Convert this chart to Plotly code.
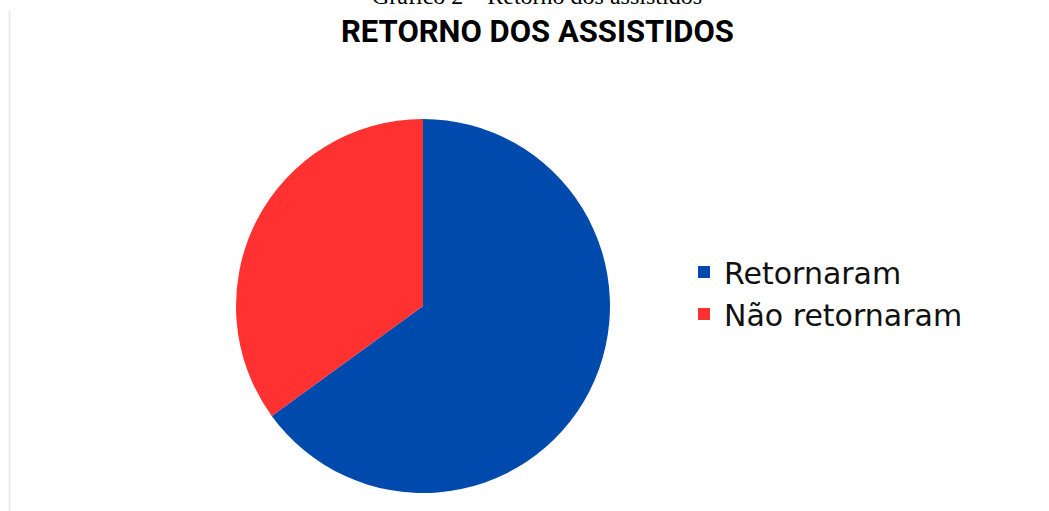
import plotly.graph_objects as go

categories = ["Retornaram", "Não retornaram"]
values = [65, 35]
colors = ["#004AAD", "#FF3131"]

W, H = 1049, 511

fig = go.Figure()
fig.add_trace(go.Pie(
    labels=categories,
    values=values,
    marker=dict(colors=colors, line=dict(width=0)),
    sort=False,
    direction="clockwise",
    rotation=0,
    textinfo="none",
    hoverinfo="label+percent",
    domain=dict(x=[(423 - 187) / W, (423 + 187) / W], y=[1 - 493 / H, 1 - 119 / H]),
))

fig.update_layout(
    width=W, height=H,
    margin=dict(l=0, r=0, t=0, b=0),
    paper_bgcolor="white",
    plot_bgcolor="white",
    showlegend=True,
    legend=dict(
        x=684 / W, y=1 - 293 / H, xanchor="left", yanchor="middle",
        font=dict(family="DejaVu Sans", size=30, color="#111111"),
        itemwidth=30,
        bgcolor="rgba(0,0,0,0)",
    ),
    annotations=[
        dict(text="Gráfico 2 – Retorno dos assistidos", x=537 / W, y=1 - 11 / H,
             xref="paper", yref="paper", xanchor="center", yanchor="bottom",
             showarrow=False, font=dict(family="Liberation Serif", size=24, color="#000000")),
        dict(text="<b>RETORNO DOS ASSISTIDOS</b>", x=537 / W, y=1 - 31 / H,
             xref="paper", yref="paper", xanchor="center", yanchor="middle",
             showarrow=False, font=dict(family="Roboto", size=31, color="#000000")),
    ],
    shapes=[
        dict(type="line", xref="paper", yref="paper", x0=9.5 / W, x1=9.5 / W,
             y0=0, y1=1 - 10 / H, line=dict(color="#E4E4EC", width=1.5)),
    ],
)

fig.write_html("out.html", config={"displayModeBar": False},
               post_script="document.body.style.margin='0';document.body.style.overflow='hidden';")
